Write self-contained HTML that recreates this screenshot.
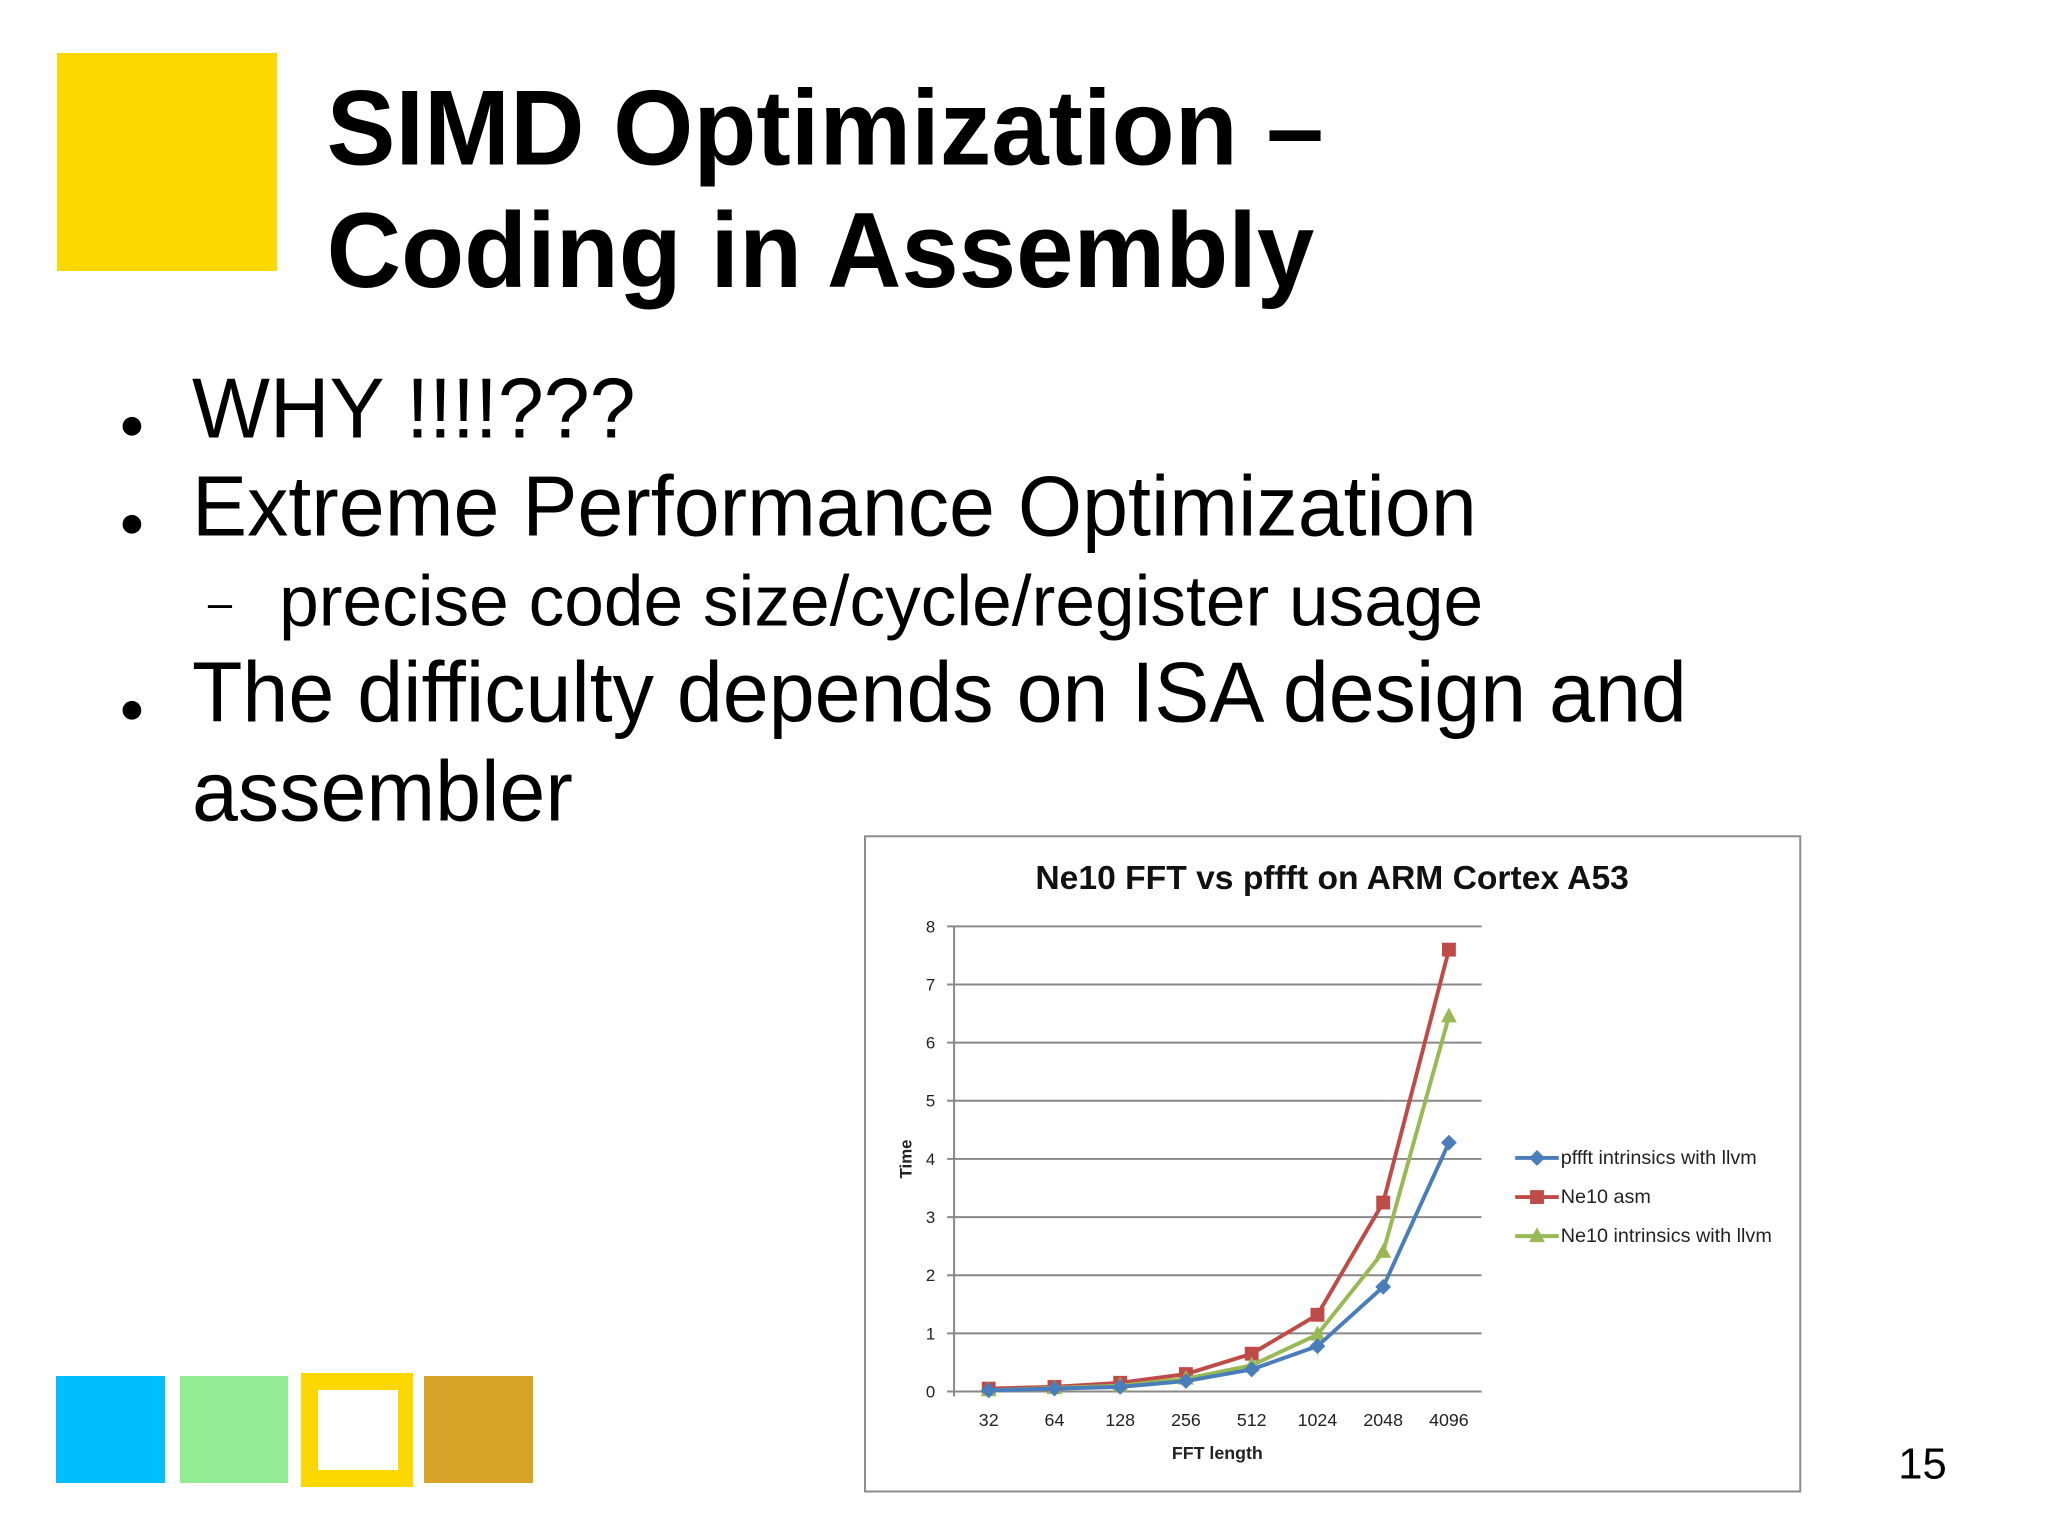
<!DOCTYPE html>
<html><head><meta charset="utf-8"><style>
body{margin:0;width:2048px;height:1537px;background:#fff;position:relative;overflow:hidden;font-family:"Liberation Sans",Arial,sans-serif;}
.a{position:absolute;}
.t{position:absolute;white-space:nowrap;color:#000;transform-origin:0 0;}
#wrap{position:absolute;left:0;top:0;width:2048px;height:1537px;transform:scale(0.9897);transform-origin:0 0;}
.dot{position:absolute;left:0;font-size:44px;}
</style></head><body>
<div class="a" style="left:57px;top:53px;width:220px;height:218px;background:#fcd700"></div>
<div id="wrap">
<div class="t" style="left:330px;top:67px;font-size:108px;font-weight:bold;line-height:124px;transform:scaleX(0.965)">SIMD Optimization –<br>Coding in Assembly</div>
<div class="t" style="left:120px;top:363px;font-size:86px;line-height:100px"><span class="dot" style="top:16px">●</span><span style="position:absolute;left:74px;transform:scaleX(0.97);transform-origin:0 0">WHY !!!!???</span>&nbsp;</div>
<div class="t" style="left:120px;top:462px;font-size:86px;line-height:100px"><span class="dot" style="top:16px">●</span><span style="position:absolute;left:74px;transform:scaleX(0.97);transform-origin:0 0">Extreme Performance Optimization</span>&nbsp;</div>
<div class="t" style="left:210px;top:566px;font-size:72px;line-height:84px"><span style="font-size:44px;position:absolute;top:2px">–</span><span style="position:absolute;left:72px">precise code size/cycle/register usage</span>&nbsp;</div>
<div class="t" style="left:120px;top:650px;font-size:86px;line-height:100px"><span class="dot" style="top:16px">●</span><span style="position:absolute;left:74px;transform:scaleX(0.97);transform-origin:0 0">The difficulty depends on ISA design and<br>assembler</span>&nbsp;</div>
<div class="t" style="left:1918px;top:1455px;font-size:44px">15</div>
<svg class="a" style="left:0;top:0" width="2048" height="1537" id="ch"></svg>
</div>
<div class="a" style="left:56px;top:1376px;width:109px;height:107px;background:#00bfff"></div>
<div class="a" style="left:180px;top:1376px;width:108px;height:107px;background:#93ec94"></div>
<div class="a" style="left:301px;top:1373px;width:112px;height:114px;background:#fcd700"><div style="position:absolute;left:17px;top:17px;width:80px;height:80px;background:#fff"></div></div>
<div class="a" style="left:424px;top:1376px;width:109px;height:107px;background:#d7a428"></div>
<script>
const categories=["32","64","128","256","512","1024","2048","4096"];
const pffft=[0.02,0.05,0.08,0.18,0.38,0.78,1.8,4.28];
const ne10asm=[0.05,0.08,0.15,0.3,0.65,1.32,3.25,7.6];
const ne10intr=[0.02,0.06,0.1,0.22,0.45,0.98,2.4,6.45];
const yTicks=[0,1,2,3,4,5,6,7,8];
const seriesNames=["pffft intrinsics with llvm","Ne10 asm","Ne10 intrinsics with llvm"];
const NS="http://www.w3.org/2000/svg";
const svg=document.getElementById('ch');
const X0=964,X1=1497,Y0=1406,Y8=936;
const xs=i=>999+i*(1464-999)/(categories.length-1);
const ys=v=>Y0-(v/8)*(Y0-Y8);
function mk(t,a,p){const e=document.createElementNS(NS,t);for(const k in a)e.setAttribute(k,a[k]);(p||svg).appendChild(e);return e;}
let e=mk('rect',{x:874,y:845,width:945,height:662,fill:'#fff',stroke:'#8c8c8c','stroke-width':2});


e=mk('text',{x:1346,y:898,'text-anchor':'middle','font-size':34,'font-weight':'bold',fill:'#111'});e.textContent="Ne10 FFT vs pffft on ARM Cortex A53";


yTicks.forEach(v=>{
 const g=mk('line',{x1:957,x2:X1,y1:ys(v),y2:ys(v),stroke:'#888','stroke-width':2});
 
 
 const t=mk('text',{x:945,y:ys(v)+6,'text-anchor':'end','font-size':17,fill:'#222'});t.textContent=v;
 
 
});
e=mk('line',{x1:X0,x2:X0,y1:Y8,y2:Y0+5,stroke:'#888','stroke-width':2});


categories.forEach((c,i)=>{
 const t=mk('text',{x:xs(i),y:1441,'text-anchor':'middle','font-size':18,fill:'#222'});t.textContent=c;
 
 
});
e=mk('text',{x:1230,y:1474,'text-anchor':'middle','font-size':18,'font-weight':'bold',fill:'#222'});e.textContent="FFT length";


e=mk('text',{x:921,y:1171,'text-anchor':'middle','font-size':17,'font-weight':'bold',fill:'#222',transform:'rotate(-90 921 1171)'});e.textContent="Time";


function marker(kind,x,y,col,p){
 if(kind==0)return mk('polygon',{points:`${x},${y-8} ${x+8},${y} ${x},${y+8} ${x-8},${y}`,fill:col},p);
 if(kind==1)return mk('rect',{x:x-7,y:y-7,width:14,height:14,fill:col},p);
 return mk('polygon',{points:`${x},${y-9} ${x+8},${y+6} ${x-8},${y+6}`,fill:col},p);
}
const data=[pffft,ne10asm,ne10intr];const cols=['#4a7ebb','#be4b48','#98b954'];
const order=[1,2,0];
order.forEach(s=>{
 const g=mk('g',{});
 
 
 mk('polyline',{points:data[s].map((v,i)=>xs(i)+','+ys(v)).join(' '),fill:'none',stroke:cols[s],'stroke-width':4,'stroke-linejoin':'round'},g);
 data[s].forEach((v,i)=>{const m=marker(s,xs(i),ys(v),cols[s],g);
  
  });
});
seriesNames.forEach((n,s)=>{
 const y=1170+s*39.5;
 const g=mk('g',{});
 
 
 mk('line',{x1:1531,x2:1575,y1:y,y2:y,stroke:cols[s],'stroke-width':4},g);
 marker(s,1553,y,cols[s],g);
 const t=mk('text',{x:1577,y:y+6,'font-size':20,fill:'#222'},g);t.textContent=n;
});
</script>
</body></html>
